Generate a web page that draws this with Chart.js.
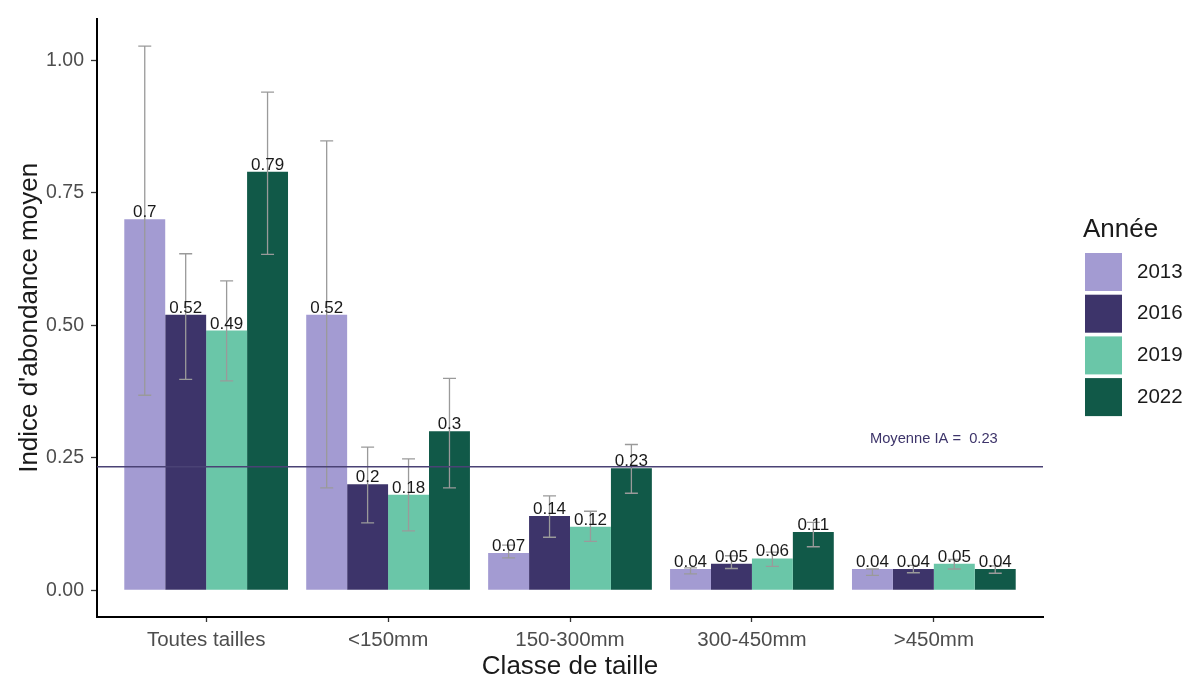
<!DOCTYPE html>
<html lang="fr">
<head>
<meta charset="utf-8">
<title>Indice d'abondance moyen par classe de taille</title>
<script src="https://cdn.jsdelivr.net/npm/chart.js@4/dist/chart.umd.min.js"></script>
<style>
  html, body { margin: 0; padding: 0; background: #ffffff; }
  #wrap { width: 1188px; height: 677px; }
</style>
</head>
<body>
<div id="wrap"><canvas id="chart" width="1188" height="677"></canvas></div>
<script>
// Size classes and survey years
const categories = ['Toutes tailles', '<150mm', '150-300mm', '300-450mm', '>450mm'];
const years = ['2013', '2016', '2019', '2022'];

// Mean abundance index per size class, one array per year
const ia2013 = [0.70, 0.52, 0.07, 0.04, 0.04];
const ia2016 = [0.52, 0.20, 0.14, 0.05, 0.04];
const ia2019 = [0.49, 0.18, 0.12, 0.06, 0.05];
const ia2022 = [0.79, 0.30, 0.23, 0.11, 0.04];

// Error bar bounds per year
const low2013  = [0.368, 0.193, 0.061, 0.031, 0.028];
const high2013 = [1.027, 0.848, 0.085, 0.042, 0.040];
const low2016  = [0.398, 0.127, 0.100, 0.041, 0.033];
const high2016 = [0.635, 0.270, 0.178, 0.065, 0.047];
const low2019  = [0.395, 0.112, 0.092, 0.045, 0.040];
const high2019 = [0.584, 0.248, 0.149, 0.072, 0.058];
const low2022  = [0.634, 0.193, 0.183, 0.082, 0.032];
const high2022 = [0.940, 0.400, 0.275, 0.128, 0.046];

// Overall mean and y-axis tick values
const meanIA = 0.233;
const yTicks = [0, 0.25, 0.5, 0.75, 1.0];

const colors = ['#a39bd2', '#3d346a', '#6ac6a8', '#115948'];
const series = [ia2013, ia2016, ia2019, ia2022];
const lows = [low2013, low2016, low2019, low2022];
const highs = [high2013, high2016, high2019, high2022];

const fontFamily = '"Liberation Sans", Arial, Helvetica, sans-serif';

const datasets = years.map((yr, k) => ({
  label: yr,
  data: series[k].map((v, i) => ({ x: i + 1, y: v })),
  lo: lows[k],
  hi: highs[k],
  backgroundColor: colors[k],
  borderWidth: 0,
  categoryPercentage: 0.9,
  barPercentage: 1.0
}));

function fmtLabel(v) {
  return String(Math.round(v * 100) / 100);
}

// Error bars, value labels and the mean reference line
const overlays = {
  id: 'overlays',
  afterDatasetsDraw(chart) {
    const { ctx, scales: { x, y }, chartArea } = chart;
    ctx.save();
    // error bars
    ctx.strokeStyle = '#9a9a9a';
    ctx.lineWidth = 1.3;
    chart.data.datasets.forEach((ds, k) => {
      const meta = chart.getDatasetMeta(k);
      meta.data.forEach((bar, i) => {
        const cx = bar.x;
        const yl = y.getPixelForValue(ds.lo[i]);
        const yh = y.getPixelForValue(ds.hi[i]);
        const cap = 6.5;
        ctx.beginPath();
        ctx.moveTo(cx, yl); ctx.lineTo(cx, yh);
        ctx.moveTo(cx - cap, yl); ctx.lineTo(cx + cap, yl);
        ctx.moveTo(cx - cap, yh); ctx.lineTo(cx + cap, yh);
        ctx.stroke();
      });
    });
    // value labels
    ctx.fillStyle = '#1a1a1a';
    ctx.font = '17px ' + fontFamily;
    ctx.textAlign = 'center';
    ctx.textBaseline = 'alphabetic';
    chart.data.datasets.forEach((ds, k) => {
      const meta = chart.getDatasetMeta(k);
      meta.data.forEach((bar, i) => {
        const v = ds.data[i].y;
        ctx.fillText(fmtLabel(v), bar.x, y.getPixelForValue(v) - 2);
      });
    });
    // mean line
    const ym = y.getPixelForValue(meanIA);
    ctx.strokeStyle = '#4a4275';
    ctx.lineWidth = 1.4;
    ctx.beginPath();
    ctx.moveTo(chartArea.left, ym);
    ctx.lineTo(chartArea.right, ym);
    ctx.stroke();
    ctx.fillStyle = '#3d346a';
    ctx.font = '14.7px ' + fontFamily;
    ctx.textBaseline = 'middle';
    ctx.fillText('Moyenne IA =  ' + meanIA.toFixed(2), x.getPixelForValue(5), y.getPixelForValue(meanIA + 0.052));
    ctx.restore();
  }
};

// Year legend on the right
const yearLegend = {
  id: 'yearLegend',
  afterDraw(chart) {
    const { ctx } = chart;
    ctx.save();
    ctx.fillStyle = '#1a1a1a';
    ctx.font = '26px ' + fontFamily;
    ctx.textAlign = 'left';
    ctx.textBaseline = 'middle';
    ctx.fillText('Année', 1083, 230);
    ctx.font = '20.5px ' + fontFamily;
    years.forEach((yr, k) => {
      const top = 253 + k * 41.7;
      ctx.fillStyle = colors[k];
      ctx.fillRect(1085, top, 37, 38);
      ctx.fillStyle = '#1a1a1a';
      ctx.fillText(yr, 1137, top + 19);
    });
    ctx.restore();
  }
};

new Chart(document.getElementById('chart'), {
  type: 'bar',
  data: { datasets },
  plugins: [overlays, yearLegend],
  options: {
    responsive: false,
    animation: false,
    layout: { padding: { left: 0, right: 145, top: 14, bottom: 0 } },
    plugins: {
      legend: { display: false },
      tooltip: { enabled: false }
    },
    scales: {
      x: {
        type: 'linear',
        min: 0.4,
        max: 5.6,
        offset: false,
        afterFit(scale) { scale.height = 60; },
        afterBuildTicks(scale) {
          scale.ticks = categories.map((c, i) => ({ value: i + 1 }));
        },
        ticks: {
          autoSkip: false,
          maxRotation: 0,
          padding: 6,
          color: '#4d4d4d',
          font: { family: fontFamily, size: 20.5 },
          callback: (v) => categories[Math.round(v) - 1]
        },
        grid: {
          display: true,
          offset: false,
          drawOnChartArea: false,
          drawTicks: true,
          tickLength: 5,
          tickWidth: 1.3,
          color: '#333333'
        },
        border: { display: true, color: '#000000', width: 2 },
        title: {
          display: true,
          text: 'Classe de taille',
          color: '#1a1a1a',
          font: { family: fontFamily, size: 26, lineHeight: 0.8 },
          padding: { top: 0, bottom: 0 }
        }
      },
      y: {
        type: 'linear',
        min: -(617 - 590) / 534,
        max: (590 - 14) / 534,
        afterFit(scale) { scale.width = 97; },
        afterBuildTicks(scale) {
          scale.ticks = yTicks.map(v => ({ value: v }));
        },
        ticks: {
          padding: 7,
          color: '#4d4d4d',
          font: { family: fontFamily, size: 19.5 },
          callback: (v) => Number(v).toFixed(2)
        },
        grid: {
          display: true,
          drawOnChartArea: false,
          drawTicks: true,
          tickLength: 6,
          tickWidth: 1.3,
          color: '#333333'
        },
        border: { display: true, color: '#000000', width: 2 },
        title: {
          display: true,
          text: "Indice d'abondance moyen",
          color: '#1a1a1a',
          font: { family: fontFamily, size: 26, lineHeight: 1 },
          padding: { top: 17, bottom: 0 }
        }
      }
    }
  }
});
</script>
</body>
</html>
